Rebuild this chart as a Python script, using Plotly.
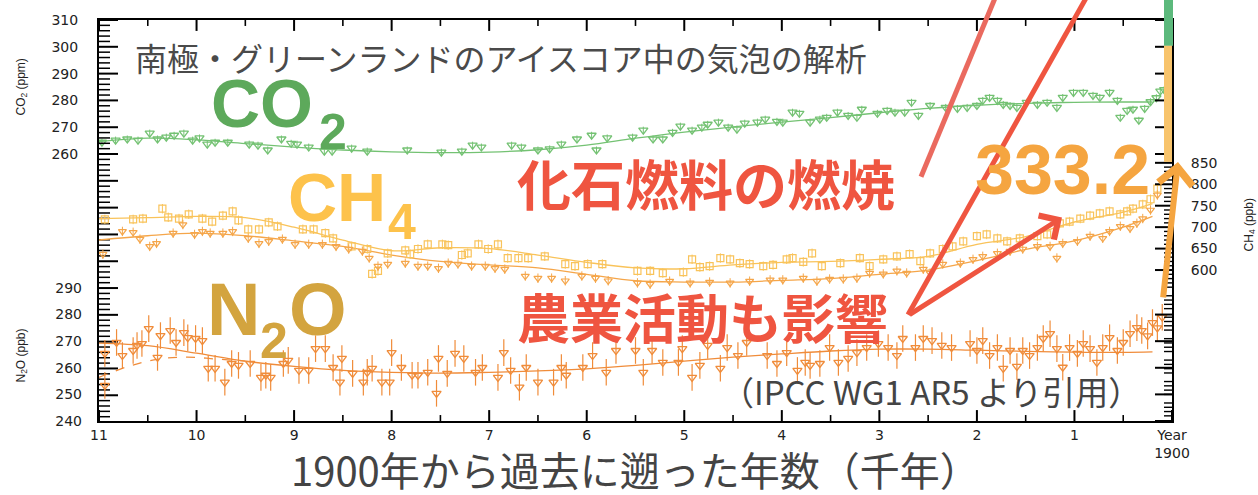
import plotly.graph_objects as go

# ---------------- data ----------------
# ages in thousand years before 1900
co2_age = [10.97, 10.83, 10.71, 10.60, 10.48, 10.40, 10.31, 10.23, 10.13, 10.04,
           9.97, 9.89, 9.81, 9.68, 9.46, 9.37, 9.27, 9.13, 9.03, 8.97,
           8.85, 8.69, 8.61, 8.41, 8.25, 7.84, 7.49, 7.28, 7.17, 7.08,
           6.77, 6.67, 6.50, 6.38, 6.26, 6.10, 5.95, 5.90, 5.79, 5.53,
           5.42, 5.32, 5.22, 5.12, 5.04, 4.92, 4.82, 4.76, 4.65, 4.55,
           4.46, 4.38, 4.25, 4.17, 4.05, 3.99, 3.89, 3.82, 3.71, 3.61,
           3.54, 3.43, 3.32, 3.23, 3.18, 3.02, 2.92, 2.84, 2.74, 2.67,
           2.60, 2.48, 2.32, 2.20, 2.10, 2.00, 1.94, 1.87, 1.79, 1.73,
           1.66, 1.59, 1.49, 1.38, 1.28, 1.18, 1.12, 1.01, 0.91, 0.81,
           0.74, 0.64, 0.56, 0.53, 0.46, 0.40, 0.34, 0.28, 0.22, 0.16,
           0.12, 0.08]
co2_ppm = [264.4, 265.2, 265.6, 265.2, 267.8, 265.6, 266.3, 267.0, 267.8, 265.2,
           266.0, 263.7, 264.4, 264.4, 263.7, 263.3, 261.5, 265.6, 264.0, 263.7,
           262.6, 261.1, 261.1, 262.2, 261.1, 261.5, 260.7, 261.1, 263.3, 262.6,
           263.3, 262.6, 261.5, 261.9, 263.7, 265.6, 267.0, 261.5, 266.0, 266.3,
           268.9, 265.6, 265.6, 268.1, 270.4, 268.9, 270.0, 271.1, 271.9, 270.0,
           269.3, 271.5, 271.9, 273.0, 272.2, 271.9, 275.6, 275.2, 271.9, 273.0,
           273.7, 275.6, 274.4, 273.7, 276.7, 275.2, 276.3, 275.6, 275.6, 279.3,
           274.4, 278.1, 277.4, 277.0, 277.4, 278.1, 280.0, 281.1, 280.0, 278.5,
           278.1, 277.4, 279.3, 278.5, 279.3, 277.4, 281.1, 283.0, 283.0, 281.9,
           281.1, 283.0, 280.0, 273.7, 276.3, 276.7, 272.6, 277.0, 279.5, 281.0,
           283.5, 284.0]
co2_fit_age = [11, 10.5, 10, 9.5, 9, 8.5, 8, 7.5, 7, 6.5, 6, 5.5, 5, 4.5, 4, 3.5,
               3, 2.5, 2, 1.5, 1, 0.5, 0.2]
co2_fit_ppm = [264.6, 265.9, 265.3, 263.9, 262.6, 261.5, 260.8, 260.5, 260.7, 261.6,
               263.3, 265.9, 268.2, 270.1, 271.9, 273.6, 275.4, 277.0, 278.2, 278.9,
               279.3, 279.4, 279.4]

ch4_a_age = [10.94, 10.65, 10.55, 10.35, 10.29, 10.18, 10.08, 9.94, 9.84, 9.73,
             9.63, 9.57, 9.47, 9.36, 9.26, 9.17, 8.91, 8.80, 8.68, 8.60,
             8.41, 8.25, 8.20, 8.14, 8.04, 7.86, 7.81, 7.73, 7.63, 7.48,
             7.42, 7.28, 7.22, 7.11, 7.01, 6.91, 6.81, 6.70, 6.60, 6.43,
             6.22, 6.12, 5.99, 5.84, 5.48, 5.35, 5.22, 5.01, 4.92, 4.84,
             4.74, 4.63, 4.53, 4.43, 4.33, 4.19, 4.09, 3.95, 3.89, 3.78,
             3.69, 3.59, 3.40, 3.20, 3.10, 2.96, 2.82, 2.69, 2.58, 2.48,
             2.35, 2.25, 2.14, 2.00, 1.90, 1.79, 1.69, 1.56, 1.38, 1.28,
             1.15, 1.05, 0.94, 0.84, 0.74, 0.64, 0.53, 0.46, 0.40, 0.30,
             0.22, 0.15]
ch4_a_ppb = [718, 718, 720, 743, 723, 720, 730, 720, 713, 727,
             737, 716, 695, 695, 711, 702, 695, 695, 686, 674,
             655, 649, 591, 598, 639, 646, 637, 649, 660, 660,
             658, 635, 639, 660, 649, 660, 628, 628, 628, 632,
             614, 609, 614, 614, 598, 598, 593, 595, 625, 607,
             609, 628, 625, 616, 614, 609, 612, 625, 628, 619,
             639, 609, 616, 628, 609, 625, 632, 637, 621, 639,
             649, 655, 667, 679, 683, 674, 667, 674, 679, 683,
             709, 713, 720, 727, 732, 737, 730, 737, 743, 753,
             765, 790]
ch4_b_age = [10.96, 10.76, 10.65, 10.58, 10.48, 10.41, 10.24, 10.14, 10.02, 9.94,
             9.86, 9.73, 9.63, 9.47, 9.36, 9.26, 9.12, 8.99, 8.85, 8.71,
             8.57, 8.44, 8.30, 8.23, 8.14, 8.04, 7.86, 7.73, 7.63, 7.52,
             7.42, 7.32, 7.18, 7.04, 6.94, 6.84, 6.63, 6.50, 6.36, 6.22,
             6.05, 5.91, 5.78, 5.48, 5.35, 5.15, 4.94, 4.74, 4.53, 4.33,
             4.12, 3.99, 3.78, 3.64, 3.51, 3.37, 3.23, 3.10, 2.96, 2.82,
             2.72, 2.55, 2.48, 2.35, 2.17, 2.04, 1.94, 1.79, 1.66, 1.53,
             1.38, 1.25, 1.18, 1.12, 0.97, 0.84, 0.71, 0.64, 0.53, 0.43,
             0.36, 0.30, 0.22, 0.15]
ch4_b_ppb = [637, 690, 688, 672, 655, 662, 686, 706, 683, 690,
             686, 686, 690, 674, 662, 667, 672, 660, 660, 660,
             655, 649, 644, 628, 609, 614, 616, 609, 609, 604,
             616, 614, 609, 609, 604, 602, 586, 581, 581, 575,
             586, 581, 575, 570, 567, 574, 570, 572, 570, 574,
             577, 577, 581, 574, 579, 579, 581, 593, 591, 598,
             593, 602, 593, 614, 616, 625, 632, 639, 644, 649,
             655, 655, 628, 662, 667, 679, 674, 690, 702, 697,
             709, 720, 740, 775]
ch4_fit_age = [11, 10.5, 10, 9.5, 9, 8.5, 8, 7.5, 7, 6.5, 6, 5.5, 5, 4.5, 4, 3.5,
               3, 2.5, 2, 1.5, 1, 0.5, 0.2]
ch4_fit_a = [720, 722, 725, 722, 700, 670, 645, 652, 650, 635, 618, 605, 603, 612,
             618, 620, 625, 632, 660, 678, 712, 735, 755]
ch4_fit_b = [670, 680, 686, 680, 668, 655, 635, 620, 612, 605, 590, 575, 572, 572,
             576, 580, 590, 600, 622, 648, 668, 700, 725]

n2o_age = [10.94, 10.94, 10.82, 10.76, 10.65, 10.61, 10.56, 10.49, 10.40, 10.37,
           10.27, 10.21, 10.13, 10.09, 10.01, 9.94, 9.88, 9.81, 9.71, 9.64,
           9.57, 9.45, 9.34, 9.29, 9.24, 9.11, 9.06, 8.95, 8.85, 8.78,
           8.68, 8.60, 8.53, 8.51, 8.40, 8.29, 8.25, 8.20, 8.10, 8.02,
           8.00, 7.90, 7.79, 7.73, 7.63, 7.54, 7.52, 7.43, 7.35, 7.26,
           7.14, 7.07, 6.91, 6.85, 6.78, 6.69, 6.62, 6.50, 6.34, 6.26,
           6.21, 6.04, 5.94, 5.80, 5.70, 5.50, 5.42, 5.33, 5.22, 5.06,
           5.02, 4.92, 4.84, 4.76, 4.63, 4.56, 4.45, 4.36, 4.15, 4.05,
           3.95, 3.84, 3.76, 3.71, 3.61, 3.51, 3.42, 3.32, 3.23, 3.13,
           3.01, 2.91, 2.82, 2.76, 2.63, 2.55, 2.46, 2.36, 2.26, 2.07,
           2.00, 1.94, 1.87, 1.79, 1.73, 1.66, 1.59, 1.53, 1.46, 1.38,
           1.32, 1.25, 1.18, 1.12, 1.05, 0.97, 0.91, 0.84, 0.77, 0.71,
           0.64, 0.56, 0.50, 0.43, 0.36, 0.31, 0.25, 0.20, 0.15, 0.10]
n2o_ppb = [253.4, 265.4, 269.5, 264.6, 266.5, 268.4, 269.1, 274.7, 263.9, 272.1,
           274.0, 269.5, 273.2, 271.3, 271.0, 270.2, 259.8, 259.8, 254.6, 261.6,
           260.9, 261.6, 256.4, 257.2, 256.4, 261.6, 262.8, 259.0, 259.0, 267.2,
           267.2, 260.1, 254.6, 263.5, 257.9, 254.6, 258.3, 259.8, 254.6, 254.6,
           265.7, 260.1, 257.2, 257.2, 258.3, 250.4, 263.5, 257.9, 265.4, 263.5,
           258.3, 260.1, 256.4, 265.7, 259.0, 252.7, 260.1, 254.6, 254.6, 260.1,
           257.2, 260.1, 264.6, 258.3, 266.5, 266.5, 258.3, 266.5, 262.0, 262.0,
           267.2, 256.4, 260.9, 268.4, 259.8, 267.6, 264.6, 269.5, 264.6, 261.6,
           265.7, 259.0, 262.0, 260.9, 261.6, 267.6, 262.0, 263.5, 265.7, 267.6,
           269.1, 267.6, 264.6, 271.0, 267.6, 271.0, 270.2, 268.4, 267.6, 269.1,
           266.5, 270.2, 264.6, 267.6, 259.8, 266.5, 260.5, 266.5, 264.6, 267.6,
           271.0, 272.8, 267.2, 260.2, 267.6, 265.4, 269.1, 267.2, 262.0, 267.6,
           271.3, 266.5, 269.5, 272.8, 275.1, 274.0, 272.0, 277.0, 275.0, 279.0]
n2o_fit_age = [11, 10.5, 10, 9.5, 9, 8.5, 8, 7.5, 7, 6.5, 6, 5.5, 5, 4.5, 4, 3.5,
               3, 2.5, 2, 1.5, 1, 0.5, 0.2]
n2o_fit_ppb = [269.3, 268.3, 265.5, 262.5, 260.5, 259.0, 258.3, 258.0, 258.3, 258.8,
               259.6, 260.9, 262.5, 264.0, 265.2, 266.3, 267.0, 267.0, 266.6, 266.2,
               265.9, 265.8, 266.0]
n2o_dash_age = [11, 10.7, 10.4, 10.1, 9.8, 9.5]
n2o_dash_ppb = [256.4, 260.5, 263.2, 264.0, 263.3, 262.5]

# tick values and labels
x_tickvals = [11, 10, 9, 8, 7, 6, 5, 4, 3, 2, 1, 0]
x_ticktext = ['11', '10', '9', '8', '7', '6', '5', '4', '3', '2', '1', 'Year<br>1900']
x_minor = [10.5, 9.5, 8.5, 7.5, 6.5, 5.5, 4.5, 3.5, 2.5, 1.5, 0.5]
co2_labels = [260, 270, 280, 290, 300, 310]
co2_major = [170, 180, 190, 200, 210, 220, 230, 240, 250, 260, 270, 280, 290, 300, 310]
co2_minor = [v for v in range(162, 310, 2) if v % 10 != 0]
n2o_labels = [240, 250, 260, 270, 280, 290]
ch4_labels = [600, 650, 700, 750, 800, 850]
ch4_minor = [v for v in range(250, 1181, 10) if v % 50 != 0]

# ---------------- geometry / styling ----------------
W, H = 1258, 495
L, R, T, B = 99, 86, 17, 74
PW, PH = W - L - R, H - T - B
X_RANGE = [11, 0]
CO2_RANGE = [160.4, 310]
N2O_RANGE = [240, 390.7]
CH4_RANGE = [248, 1183]
X_PER_PX = (X_RANGE[0] - X_RANGE[1]) / PW          # axis units per pixel (x)
CO2_PER_PX = (CO2_RANGE[1] - CO2_RANGE[0]) / PH     # axis units per pixel (CO2 y)


def px(x):
    return (x - L) / PW


def py(y):
    return (H - B - y) / PH


INK = '#000000'
GREEN = '#74c273'
CH4_A = '#f9c35a'
CH4_B = '#f5a64a'
N2O_C = '#f08c3a'
RED = '#ef5540'
SALMON = '#ea6a5f'
ORANGE = '#f5a540'
JP = 'Noto Sans CJK JP'
LAT = 'Liberation Sans'
TICKFONT = dict(family='DejaVu Sans', size=14, color='#222222')

fig = go.Figure()

# CO2
fig.add_trace(go.Scatter(x=co2_fit_age, y=co2_fit_ppm, mode='lines', yaxis='y',
                         line=dict(color=GREEN, width=1.3, shape='spline'), hoverinfo='skip'))
fig.add_trace(go.Scatter(x=co2_age, y=co2_ppm, mode='markers', yaxis='y',
                         marker=dict(symbol='triangle-down-open', size=8, color=GREEN,
                                     line=dict(width=1.3, color=GREEN)),
                         error_y=dict(type='constant', value=1.3, thickness=1, width=0, color=GREEN)))
# CH4
fig.add_trace(go.Scatter(x=ch4_fit_age, y=ch4_fit_a, mode='lines', yaxis='y3',
                         line=dict(color=CH4_A, width=1.3, shape='spline'), hoverinfo='skip'))
fig.add_trace(go.Scatter(x=ch4_fit_age, y=ch4_fit_b, mode='lines', yaxis='y3',
                         line=dict(color=CH4_B, width=1.3, shape='spline'), hoverinfo='skip'))
fig.add_trace(go.Scatter(x=ch4_a_age, y=ch4_a_ppb, mode='markers', yaxis='y3',
                         marker=dict(symbol='square-open', size=7, color=CH4_A,
                                     line=dict(width=1.2, color=CH4_A)),
                         error_y=dict(type='constant', value=11, thickness=1, width=0, color=CH4_A)))
fig.add_trace(go.Scatter(x=ch4_b_age, y=ch4_b_ppb, mode='markers', yaxis='y3',
                         marker=dict(symbol='triangle-down-open', size=7, color=CH4_B,
                                     line=dict(width=1.2, color=CH4_B)),
                         error_y=dict(type='constant', value=11, thickness=1, width=0, color=CH4_B)))
# N2O
fig.add_trace(go.Scatter(x=n2o_fit_age, y=n2o_fit_ppb, mode='lines', yaxis='y2',
                         line=dict(color=N2O_C, width=1.3, shape='spline'), hoverinfo='skip'))
fig.add_trace(go.Scatter(x=n2o_dash_age, y=n2o_dash_ppb, mode='lines', yaxis='y2',
                         line=dict(color=N2O_C, width=1.3, shape='spline', dash='dash'), hoverinfo='skip'))
fig.add_trace(go.Scatter(x=n2o_age, y=n2o_ppb, mode='markers', yaxis='y2',
                         marker=dict(symbol='triangle-down-open', size=8, color=N2O_C,
                                     line=dict(width=1.3, color=N2O_C)),
                         error_y=dict(type='constant', value=5, thickness=1.2, width=0, color=N2O_C)))


# ---------------- tick combs drawn as line traces on each axis scale ----------------
def ytick_trace(yaxis, values, side, length_px, width):
    xs, ys = [], []
    dx = length_px * X_PER_PX
    for v in values:
        if side == 'left':
            xs += [X_RANGE[0], X_RANGE[0] - dx, None]
        else:
            xs += [X_RANGE[1], X_RANGE[1] + dx, None]
        ys += [v, v, None]
    fig.add_trace(go.Scatter(x=xs, y=ys, yaxis=yaxis, mode='lines', hoverinfo='skip',
                             line=dict(color=INK, width=width), cliponaxis=False))


def xtick_trace(values, length_px, width):
    xs, ys = [], []
    dy = length_px * CO2_PER_PX
    for v in values:
        xs += [v, v, None, v, v, None]
        ys += [CO2_RANGE[0], CO2_RANGE[0] + dy, None, CO2_RANGE[1], CO2_RANGE[1] - dy, None]
    fig.add_trace(go.Scatter(x=xs, y=ys, yaxis='y', mode='lines', hoverinfo='skip',
                             line=dict(color=INK, width=width), cliponaxis=False))


ytick_trace('y', co2_major, 'left', 19, 2.0)
ytick_trace('y', co2_minor, 'left', 11, 1.5)
ytick_trace('y3', ch4_labels, 'right', 17, 2.0)
ytick_trace('y3', ch4_minor, 'right', 8, 1.4)
ytick_trace('y', co2_labels, 'right', 17, 2.0)
ytick_trace('y2', n2o_labels[:-1], 'right', 17, 2.0)
xtick_trace(x_tickvals, 11, 2.0)
xtick_trace(x_minor, 6, 1.6)

NOGRID = dict(showgrid=False, zeroline=False, ticks='')

fig.update_layout(
    width=W, height=H, margin=dict(l=L, r=R, t=T, b=B),
    plot_bgcolor='white', paper_bgcolor='white', showlegend=False,
    xaxis=dict(range=X_RANGE, tickmode='array', tickvals=x_tickvals, ticktext=x_ticktext,
               showline=True, linecolor=INK, linewidth=2, mirror=True,
               tickfont=dict(family='DejaVu Sans', size=14, color='#222222'), **NOGRID),
    yaxis=dict(range=CO2_RANGE, tickmode='array', tickvals=co2_labels,
               ticktext=[str(v) for v in co2_labels],
               showline=True, linecolor=INK, linewidth=2, tickfont=TICKFONT,
               ticklabelstandoff=16, **NOGRID),
    yaxis2=dict(range=N2O_RANGE, overlaying='y', anchor='x', side='left',
                tickmode='array', tickvals=n2o_labels, ticktext=[str(v) for v in n2o_labels],
                tickfont=TICKFONT, ticklabelstandoff=16, **NOGRID),
    yaxis3=dict(range=CH4_RANGE, overlaying='y', anchor='x', side='right',
                tickmode='array', tickvals=ch4_labels, ticktext=[str(v) for v in ch4_labels],
                showline=True, linecolor=INK, linewidth=2, tickfont=TICKFONT,
                ticklabelstandoff=14, **NOGRID),
)

# ---------------- decorations ----------------
shapes = [
    dict(type='rect', xref='paper', yref='paper', x0=px(1164), x1=px(1173), y0=py(43), y1=py(-5),
         fillcolor='#5cb97c', line=dict(width=0)),
    dict(type='rect', xref='paper', yref='paper', x0=px(1164), x1=px(1172), y0=py(160), y1=py(43),
         fillcolor='#f8c46c', line=dict(width=0)),
    dict(type='line', xref='paper', yref='paper', x0=px(921), y0=py(175), x1=px(995), y1=py(-5),
         line=dict(color=SALMON, width=5)),
    dict(type='line', xref='paper', yref='paper', x0=px(908), y0=py(314), x1=px(1086), y1=py(-5),
         line=dict(color=RED, width=5)),
]
fig.update_layout(shapes=shapes)

ann = []


def text(t, x, y, size, color, family=JP, xanchor='left', yanchor='middle', weight='normal', angle=0):
    ann.append(dict(text=t, x=px(x), y=py(y), xref='paper', yref='paper', showarrow=False,
                    xanchor=xanchor, yanchor=yanchor, textangle=angle,
                    font=dict(family=family, size=size, color=color, weight=weight)))


text('南極・グリーンランドのアイスコア中の気泡の解析', 501, 54, 32, '#4a4a4a', xanchor='center')
text('CO', 209, 101, 68, '#5da95b', family=LAT, weight='bold')
text('2', 317, 130, 50, '#5da95b', family=LAT, weight='bold')
text('CH', 286, 195, 68, '#fdc24b', family=LAT, weight='bold')
text('4', 386, 221, 50, '#fdc24b', family=LAT, weight='bold')
text('N', 205, 309, 74, '#d3a43f', family=LAT, weight='bold')
text('2', 258, 340, 50, '#d3a43f', family=LAT, weight='bold')
text('O', 287, 309, 74, '#d3a43f', family=LAT, weight='bold')
text('化石燃料の燃焼', 515, 181, 54, RED, weight='bold')
text('農業活動も影響', 515, 315, 53, RED, weight='bold')
text('333.2', 1062, 168, 70, ORANGE, family=LAT, xanchor='center', weight='bold')
text('（IPCC WG1 AR5 より引用）', 931, 391, 33, '#444444', xanchor='center')
text('1900年から過去に遡った年数（千年）', 635, 469, 40, '#444444', xanchor='center')
text('CO<sub>2</sub> (ppm)', 22, 85, 12, '#222222', family=LAT, xanchor='center', angle=-90)
text('N<sub>2</sub>O (ppb)', 22, 355, 12, '#222222', family=LAT, xanchor='center', angle=-90)
text('CH<sub>4</sub> (ppb)', 1250, 224, 12, '#222222', family=LAT, xanchor='center', angle=-90)

# arrows
ann.append(dict(x=px(1062), y=py(216), xref='paper', yref='paper', text='', showarrow=True,
                ax=908 - 1062, ay=314 - 216, arrowhead=4, arrowsize=1.1, arrowwidth=5,
                arrowcolor=RED, standoff=0))
ann.append(dict(x=px(1178), y=py(160), xref='paper', yref='paper', text='', showarrow=True,
                ax=1163 - 1178, ay=297 - 160, arrowhead=4, arrowsize=1.1, arrowwidth=6,
                arrowcolor=ORANGE, standoff=0))
fig.update_layout(annotations=ann)

fig.write_html('out.html')
